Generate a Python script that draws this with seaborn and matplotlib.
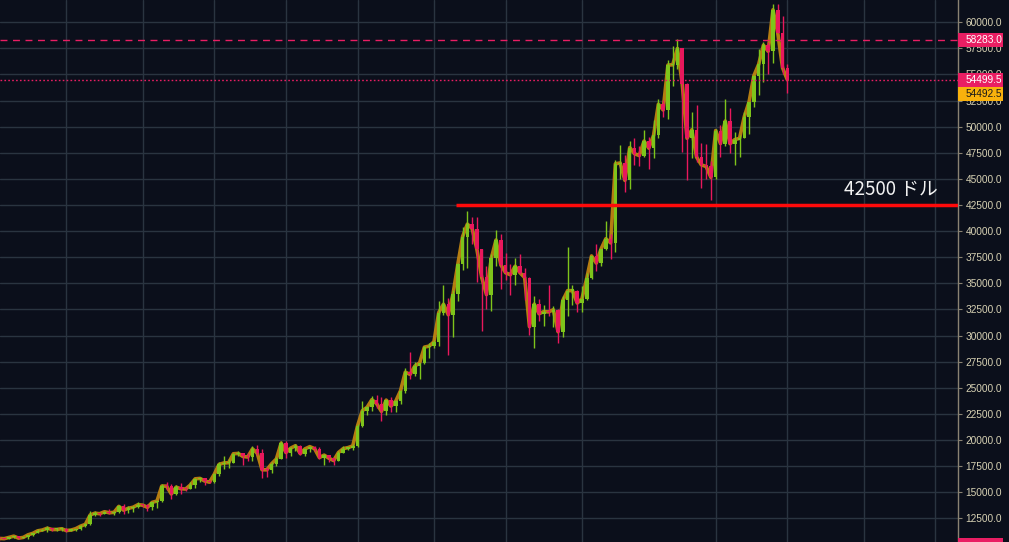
import numpy as np
import pandas as pd
import matplotlib
matplotlib.use("Agg")
import matplotlib.pyplot as plt
from matplotlib.patches import Rectangle
import seaborn as sns

# ---------------- data (daily candles, 2020-10-01 .. 2021-03-16) ----------------
start_date = "2020-10-01"
end_date = "2021-03-16"

opens = [
    10780, 10620, 10570, 10550, 10670, 10790, 10600, 10670, 10920, 11060,
    11300, 11380, 11550, 11430, 11430, 11500, 11330, 11370, 11510, 11750,
    11920, 12820, 12990, 12940, 13130, 13030, 13070, 13640, 13280, 13460, 13560,
    13800, 13760, 13550, 14030, 14150, 15590, 15580, 14830, 15480, 15330,
    15300, 15700, 16280, 16320, 16070, 15960, 16720, 17660, 17800, 17820,
    18680, 18710, 18420, 18370, 19150, 18730, 17150, 17140, 17720, 18180,
    19700, 18800, 19220, 19450, 18700, 19150, 19360, 19170, 18320, 18550,
    18250, 18030, 18800, 19170, 19270, 19430, 21350, 22800, 23130, 23860,
    23480, 22740, 23820, 23250, 23720, 24710, 26490, 26280, 27080, 27380, 28890,
    28990, 29400, 32200, 33000, 31990, 33990, 36820, 39480, 40670, 40240,
    38240, 35570, 33920, 37390, 39150, 36770, 36010, 35820, 36640, 36020,
    35550, 30850, 33010, 32090, 32290, 32260, 32470, 30360, 33370, 34300, 34300,
    33110, 33520, 35480, 37620, 36940, 38290, 39270, 38870, 46450, 46520,
    44850, 48000, 47410, 47230, 48620, 47940, 49170, 52150, 51600, 55900,
    55920, 57490, 54090, 48890, 49700, 47090, 46340, 46190,
    45140, 49630, 48380, 50540, 48370, 48760, 48880, 50970, 52380, 54880,
    55960, 57800, 57220, 61190, 59000, 55650,
]
highs = [
    10930, 10660, 10600, 10700, 10800, 10800, 10690, 10940, 11110, 11490,
    11430, 11730, 11560, 11560, 11620, 11540, 11400, 11520, 11830, 12030,
    13220, 13190, 13030, 13160, 13350, 13240, 13790, 13860, 13650, 13680, 14100,
    13900, 13830, 14070, 14250, 15770, 15970, 15770, 15650, 15850, 15480,
    15960, 16340, 16480, 16330, 16140, 16880, 17860, 18480, 18180, 18800,
    18970, 18750, 18770, 19420, 19490, 19100, 17460, 17880, 18350, 19860,
    19920, 19310, 19570, 19520, 19180, 19420, 19420, 19300, 18640, 18560,
    18290, 18950, 19410, 19350, 19570, 21560, 23770, 23280, 24170, 24300,
    24100, 23840, 24100, 23790, 24790, 26870, 28420, 27500, 27410, 28990, 29300,
    29600, 33300, 34800, 33600, 34360, 36940, 40360, 41950, 41380, 41350,
    38260, 36630, 37850, 40100, 39750, 37950, 36850, 37400, 37850, 36420,
    35600, 33830, 33460, 32950, 34880, 32800, 32560, 33780, 38500, 34860, 34330,
    34720, 35980, 37660, 38720, 38310, 40950, 39700, 46800, 48200, 47310,
    48630, 48880, 48150, 49700, 49000, 50600, 52620, 52550, 56370, 57770,
    58350, 57540, 54200, 51380, 52040, 48400, 48300, 46730,
    49790, 50200, 52640, 51830, 49450, 49200, 51450, 52400, 54900, 57390,
    58150, 58060, 61790, 61720, 60600, 56000,
]
lows = [
    10550, 10370, 10500, 10530, 10630, 10530, 10580, 10530, 10830, 11050,
    11280, 11190, 11300, 11270, 11260, 11220, 11300, 11330, 11420, 11690,
    11900, 12690, 12720, 12900, 12900, 12780, 13050, 12920, 12990, 13130, 13440,
    13620, 13200, 13290, 13530, 14100, 15190, 14350, 14720, 14810, 15080,
    15290, 15440, 15950, 15710, 15870, 15870, 16560, 17220, 17350, 17760,
    18420, 17610, 18000, 18020, 18570, 16330, 16440, 16880, 17520, 18180,
    18320, 18510, 18930, 18570, 18500, 18860, 18900, 18200, 17650, 17910,
    17570, 18020, 18710, 19000, 19050, 19300, 21230, 22350, 22750, 23060,
    21820, 22350, 22720, 22720, 23440, 24500, 25860, 26100, 25880, 27320, 27850,
    28800, 28950, 32000, 28130, 29900, 33290, 36300, 36500, 38720, 35110,
    30420, 32530, 32380, 36700, 34410, 35360, 33850, 34800, 35900, 33400,
    30070, 28850, 31390, 30900, 31900, 30840, 29240, 29840, 31900, 32880, 32300,
    32300, 33420, 35380, 36160, 36620, 38220, 37350, 37990, 45020, 43730,
    44050, 46350, 46200, 47090, 45900, 47030, 48950, 50900, 50700, 53900,
    55500, 47620, 44900, 47000, 46600, 44110, 45000, 43000,
    45000, 47050, 48100, 47500, 46300, 47070, 48880, 49270, 51850, 53000,
    54270, 55000, 56080, 59000, 55000, 53250,
]
closes = [
    10620, 10570, 10550, 10670, 10790, 10600, 10670, 10920, 11060, 11300,
    11380, 11550, 11430, 11430, 11500, 11330, 11370, 11510, 11750, 11920,
    12820, 12990, 12940, 13130, 13030, 13070, 13640, 13280, 13460, 13560, 13800,
    13760, 13550, 14030, 14150, 15590, 15580, 14830, 15480, 15330, 15300,
    15700, 16280, 16320, 16070, 15960, 16720, 17660, 17800, 17820, 18680,
    18710, 18420, 18370, 19150, 18730, 17150, 17140, 17720, 18180, 19700,
    18800, 19220, 19450, 18700, 19150, 19360, 19170, 18320, 18550, 18250,
    18030, 18800, 19170, 19270, 19430, 21350, 22800, 23130, 23860, 23480,
    22740, 23820, 23250, 23720, 24710, 26490, 26280, 27080, 27380, 28890, 28990,
    29400, 32200, 33000, 31990, 33990, 36820, 39480, 40670, 40240, 38240,
    35570, 33920, 37390, 39150, 36770, 36010, 35820, 36640, 36020, 35550,
    30850, 33010, 32090, 32290, 32260, 32470, 30360, 33370, 34300, 34300, 33110,
    33520, 35480, 37620, 36940, 38290, 39270, 38870, 46450, 46520, 44850,
    48000, 47410, 47230, 48620, 47940, 49170, 52150, 51600, 55900, 55920,
    57490, 54090, 48890, 49700, 47090, 46340, 46190, 45140,
    49630, 48380, 50540, 48370, 48760, 48880, 50970, 52380, 54880, 55960,
    57800, 57220, 61190, 59000, 55650, 54500,
]

# vertical grid dates (time-axis marks of the chart)
grid_dates = ["2020-10-16", "2020-11-01", "2020-11-16", "2020-12-01", "2020-12-16",
              "2021-01-01", "2021-01-16", "2021-02-01", "2021-03-01", "2021-03-16",
              "2021-04-01", "2021-04-16"]
y_ticks = [12500, 15000, 17500, 20000, 22500, 25000, 27500, 30000, 32500, 35000,
           37500, 40000, 42500, 45000, 47500, 50000, 52500, 55000, 57500, 60000]

support_level = 42500
support_span = ["2021-01-05 14:00", "2021-04-21 00:00"]
support_text = "42500 ドル"
dashed_level = 58283.0
last_price = 54499.5
other_price = 54492.5

# ---------------- styling ----------------
BG = "#0b0f1b"
GRID = "#2a3440"
UP = "#7ec41b"
DOWN = "#e8185c"
LINE = "#c98a10"
LABEL = "#d8d2b4"
PINK = "#e91e63"
YEL = "#f9b10c"

sns.set_theme(style="dark")
plt.rcParams["font.family"] = ["Liberation Sans", "DejaVu Sans"]

W, H = 1009, 542
fig = plt.figure(figsize=(W / 100, H / 100), dpi=100, facecolor=BG)
ax_right_px = 958
ax = fig.add_axes([0, 0, ax_right_px / W, 1])
ax.set_facecolor(BG)

dates = pd.date_range(start_date, end_date, freq="D")
t0 = pd.Timestamp(start_date)
x = np.array([(d - t0).days for d in dates], dtype=float)
df = pd.DataFrame({"x": x, "open": opens, "high": highs, "low": lows, "close": closes})

XMIN, XMAX = 1.12, 201.75
YMIN, YMAX = 10231, 62127
ax.set_xlim(XMIN, XMAX)
ax.set_ylim(YMIN, YMAX)

# grid
gx = [(pd.Timestamp(d) - t0).days for d in grid_dates]
for g in gx:
    ax.axvline(g, color=GRID, lw=1.0, zorder=0)
for yt in y_ticks:
    ax.axhline(yt, color=GRID, lw=1.0, zorder=0)

# close line (seaborn)
sns.lineplot(data=df, x="x", y="close", ax=ax, color=LINE, lw=2.6, alpha=0.9, zorder=2)

# candles
up = df["close"] >= df["open"]
colors = np.where(up, UP, DOWN)
ax.vlines(df["x"], df["low"], df["high"], colors=colors, lw=1.0, zorder=3)
body_bottom = np.minimum(df["open"], df["close"])
body_h = np.maximum(np.abs(df["close"] - df["open"]), 110)
ax.bar(df["x"], body_h, bottom=body_bottom, width=0.74, color=colors, lw=0, zorder=4)

# horizontal levels
ax.axhline(dashed_level, color=PINK, lw=1.0, ls=(0, (5, 4)), zorder=5)
ax.axhline(last_price, color=PINK, lw=1.0, ls=(0, (1.2, 1.6)), zorder=5)
sx = [(pd.Timestamp(s) - t0) / pd.Timedelta(days=1) for s in support_span]
ax.plot(sx, [support_level, support_level], color="#ff0a0a", lw=2.5, zorder=6,
        solid_capstyle="butt")
ax.text(197.6, 43480, support_text, color="#f2f2f2", fontsize=13.5, ha="right",
        va="baseline", family=["Noto Sans CJK JP", "DejaVu Sans"], zorder=7)

# axes styling
for s in ["top", "left", "bottom"]:
    ax.spines[s].set_visible(False)
ax.spines["right"].set_visible(True)
ax.spines["right"].set_color("#8a8272")
ax.spines["right"].set_linewidth(1.0)
ax.set_xticks([])
ax.yaxis.tick_right()
ax.set_yticks(y_ticks)
ax.set_yticklabels([f"{v:.1f}" for v in y_ticks])
ax.tick_params(axis="y", which="both", right=True, left=False, direction="out",
               length=3.2, width=0.8, color="#8a8272", labelcolor=LABEL,
               labelsize=7.3, pad=2.2)
ax.set_xlabel("")
ax.set_ylabel("")
ax.grid(False)


def ypx(v):
    return (v - YMIN) / (YMAX - YMIN) * H


# partially visible top label
fig.text(965 / W, ypx(62500) / H, "62500.0", color=LABEL, fontsize=7.3,
         ha="left", va="center")


def price_box(v_center_px, text, fc, tc):
    h = 14
    fig.patches.append(Rectangle((ax_right_px / W, (v_center_px - h / 2) / H), 45 / W, h / H,
                                 transform=fig.transFigure, facecolor=fc, edgecolor="none",
                                 zorder=10))
    fig.text(966 / W, v_center_px / H, text, color=tc, fontsize=7.3, ha="left",
             va="center", zorder=11)


price_box(ypx(dashed_level), f"{dashed_level:.1f}", PINK, "#ffffff")
price_box(ypx(last_price), f"{last_price:.1f}", PINK, "#ffffff")
price_box(ypx(last_price) - 14.3, f"{other_price:.1f}", YEL, "#1a1a1a")
# partially visible box at the bottom edge
fig.patches.append(Rectangle((ax_right_px / W, -10 / H), 45 / W, 14 / H,
                             transform=fig.transFigure, facecolor=PINK,
                             edgecolor="none", zorder=10))

fig.savefig("out.png", dpi=100, facecolor=BG)
